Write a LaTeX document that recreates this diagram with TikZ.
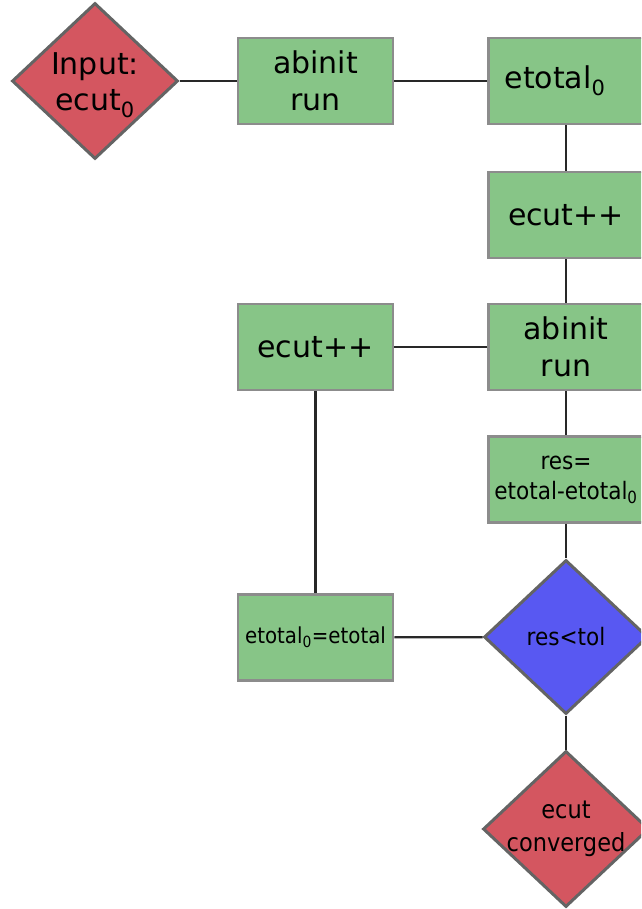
\documentclass[tikz,border=0pt]{standalone}
\usepackage{fontspec}
\setmainfont{DejaVu Sans}
\newfontfamily\condfont{DejaVu Sans Condensed}
\usetikzlibrary{shapes.geometric}

\definecolor{boxgreen}{RGB}{135,197,135}
\definecolor{boxedge}{RGB}{140,140,140}
\definecolor{termred}{RGB}{212,86,96}
\definecolor{testblue}{RGB}{88,88,242}
\definecolor{diaedge}{RGB}{100,100,100}
\definecolor{linecol}{RGB}{40,40,40}

\begin{document}
\begin{tikzpicture}[x=1pt,y=-1pt,
  stepbox/.style={rectangle, draw=boxedge, line width=2.5pt, fill=boxgreen,
    minimum width=155pt, minimum height=86pt, inner sep=0pt, align=center,
    font=\fontsize{30}{37}\selectfont},
  smallbox/.style={stepbox, font=\condfont\fontsize{24}{30}\selectfont},
  decision/.style={diamond, draw=diaedge, line width=3pt, inner sep=0pt,
    minimum width=166pt, minimum height=156pt},
  dtext/.style={align=center, inner sep=0pt},
  link/.style={line width=2.2pt, draw=linecol}
]
\useasboundingbox (0,0) rectangle (641,909);
\clip (0,0) rectangle (641,909);

% top row
\node[decision, fill=termred] (inp) at (95,81) {};
\node[dtext, font=\fontsize{30}{36}\selectfont] (inpT) at ([yshift=-4pt]inp.center) {Input:\\ecut\textsubscript{0}};
\node[stepbox] (ab1) at (315.5,81) {abinit\\run};
\node[stepbox] (et0) at (566,81) {etotal\textsubscript{0}\hspace*{22pt}};

% right column
\node[stepbox] (ec1) at (566,215) {ecut++};
\node[stepbox] (ab2) at (566,347) {abinit\\run};
\node[smallbox] (res) at (566,479.5) {res=\\etotal-etotal\textsubscript{0}};
\node[decision, fill=testblue, minimum width=164pt, minimum height=154pt] (tol) at (566,637) {};
\node[dtext, font=\condfont\fontsize{24}{30}\selectfont] (tolT) at (tol) {res<tol};
\node[decision, fill=termred] (conv) at (566,829) {};
\node[dtext, font=\condfont\fontsize{25}{33}\selectfont] (convT) at (conv) {ecut\\converged};

% left column
\node[stepbox] (ec2) at (315.5,347) {ecut++};
\node[smallbox, font=\condfont\fontsize{22}{28}\selectfont] (upd) at (315.5,637.5) {etotal\textsubscript{0}=etotal};

% connectors
\draw[link] (inp.east) -- (ab1.west);
\draw[link] (ab1) -- (et0);
\draw[link] (et0) -- (ec1);
\draw[link] (ec1) -- (ab2);
\draw[link] (ab2) -- (ec2);
\draw[link] (ab2) -- (res);
\draw[link] (res) -- (tol);
\draw[link] (tol) -- (upd);
\draw[link] (tol) -- (conv);
\draw[link] (ec2) -- (upd);
\end{tikzpicture}
\end{document}
